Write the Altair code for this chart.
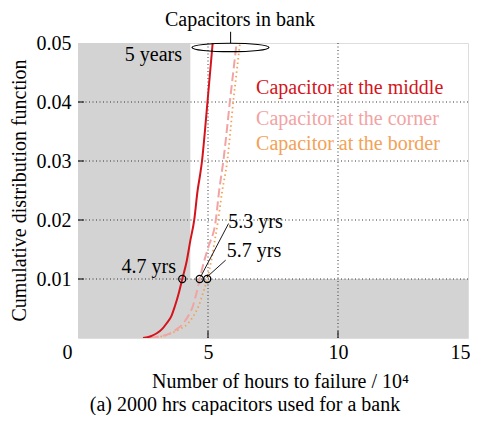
import altair as alt
import pandas as pd

FONT = "Liberation Serif"

# Curves (x in 10^4 hours, y = cumulative distribution)
mid_x = [2.5, 2.8, 3.03, 3.25, 3.41, 3.6, 3.72, 3.87, 4.01, 4.18, 4.32, 4.47, 4.6, 4.69, 4.77, 4.88, 4.98, 5.08, 5.18]
mid_y = [0.0, 0.0003, 0.0008, 0.0016, 0.0025, 0.0038, 0.0053, 0.0075, 0.01, 0.013, 0.0165, 0.02, 0.025, 0.0275, 0.03, 0.035, 0.04, 0.045, 0.05]

cor_x = [2.77, 3.07, 3.54, 3.8, 4.05, 4.25, 4.41, 4.55, 4.68, 4.85, 5.02, 5.3, 5.43, 5.59, 5.72, 5.84, 5.97, 6.1]
cor_y = [0.0, 0.0002, 0.0008, 0.0015, 0.0025, 0.0038, 0.0053, 0.0075, 0.01, 0.013, 0.0155, 0.02, 0.025, 0.03, 0.035, 0.04, 0.045, 0.05]

bor_x = [2.83, 3.15, 3.6, 3.9, 4.24, 4.45, 4.63, 4.8, 4.97, 5.12, 5.26, 5.39, 5.55, 5.74, 5.86, 5.97, 6.1, 6.23]
bor_y = [0.0, 0.0002, 0.0008, 0.0015, 0.0025, 0.0038, 0.0053, 0.0075, 0.01, 0.013, 0.0165, 0.02, 0.025, 0.03, 0.035, 0.04, 0.045, 0.05]

series_names = ["Capacitor at the middle", "Capacitor at the corner", "Capacitor at the border"]
series_colors = ["#d4141c", "#f2a3a3", "#f2a257"]

# Shaded regions: before 5 years, and below CDF 0.01
five_years = 4.32
shade_limit = 0.01

# Grid and ticks
x_ticks = [0, 5, 10, 15]
y_ticks = [0.01, 0.02, 0.03, 0.04, 0.05]
grid_x = [5, 10]
grid_y = [0.01, 0.02, 0.03, 0.04]

# Markers at CDF = 0.01
marker_x = [4.01, 4.68, 4.97]
marker_y = [0.01, 0.01, 0.01]

# Annotation texts
note_text = ["5 years", "4.7 yrs"]
note_x = [4.0, 3.77]
note_y = [0.0470, 0.0110]

note2_text = ["5.3 yrs", "5.7 yrs"]
note2_x = [5.78, 5.72]
note2_y = [0.0186, 0.0137]

leader_x = [4.72, 4.95]
leader_y = [0.0104, 0.0103]
leader_x2 = [5.79, 5.68]
leader_y2 = [0.0194, 0.0132]

legend_x = [6.85, 6.85, 6.85]
legend_y = [0.04136, 0.0361, 0.03186]

bank_label = "Capacitors in bank"
bank_x = 6.23
bank_y = 0.0529
bank_ell_x = 5.865
bank_ell_y = 0.04924
bank_line_x = 5.87
bank_line_y = [0.05, 0.0519]

xs = alt.Scale(domain=[0, 15], nice=False, zero=False)
ys = alt.Scale(domain=[0, 0.05], nice=False, zero=False)

GRAY = "#d3d3d3"

shade_left = alt.Chart(pd.DataFrame({"x": [0], "x2": [five_years], "y": [0], "y2": [0.05]})).mark_rect(
    color=GRAY).encode(
    x=alt.X("x:Q", scale=xs, axis=alt.Axis(
        values=x_ticks, format="d", title="Number of hours to failure / 10\u2074",
        labelFont=FONT, labelFontSize=20, labelColor="black", labelFlush=False,
        labelOffset={"condition": [{"test": "datum.value == 0", "value": -11},
                                   {"test": "datum.value == 15", "value": -8}], "value": 0},
        labelPadding=4, ticks=False, domain=False, grid=False,
        titleFont=FONT, titleFontSize=20, titleFontWeight="normal", titleColor="black",
        titleX=202, titleY=43, titleBaseline="middle", titleAlign="center")),
    x2="x2:Q",
    y=alt.Y("y:Q", scale=ys, axis=alt.Axis(
        values=y_ticks, format=".2f", title="Cumulative distribution function",
        labelFont=FONT, labelFontSize=20, labelColor="black", labelPadding=7,
        ticks=False, domain=False, grid=False,
        titleFont=FONT, titleFontSize=20, titleFontWeight="normal", titleColor="black",
        titleX=-59, titleY=147, titleBaseline="middle", titleAlign="center", titleAngle=270)),
    y2="y2:Q",
)

shade_bottom = alt.Chart(pd.DataFrame({"x": [0], "x2": [15], "y": [0], "y2": [shade_limit]})).mark_rect(
    color=GRAY).encode(x=alt.X("x:Q", scale=xs), x2="x2:Q", y=alt.Y("y:Q", scale=ys), y2="y2:Q")

gridx = alt.Chart(pd.DataFrame({"g": grid_x})).mark_rule(
    color="#333333", strokeWidth=1, strokeDash=[1, 2.5]).encode(x=alt.X("g:Q", scale=xs))
gridy = alt.Chart(pd.DataFrame({"g": grid_y})).mark_rule(
    color="#333333", strokeWidth=1, strokeDash=[1, 2.5]).encode(y=alt.Y("g:Q", scale=ys))

tickx = alt.Chart(pd.DataFrame({"t": grid_x})).mark_rule(color="#222222", strokeWidth=1.2).encode(
    x=alt.X("t:Q", scale=xs), y=alt.value(295), y2=alt.value(288))
ticky = alt.Chart(pd.DataFrame({"t": grid_y})).mark_rule(color="#222222", strokeWidth=1.2).encode(
    y=alt.Y("t:Q", scale=ys), x=alt.value(0), x2=alt.value(6))

def curve(xv, yv, color, dash, width):
    df = pd.DataFrame({"x": xv, "y": yv, "o": list(range(len(xv)))})
    kw = dict(color=color, strokeWidth=width, interpolate="monotone", clip=True)
    if dash:
        kw["strokeDash"] = dash
    return alt.Chart(df).mark_line(**kw).encode(
        x=alt.X("x:Q", scale=xs), y=alt.Y("y:Q", scale=ys), order="o:Q")

c_mid = curve(mid_x, mid_y, series_colors[0], None, 2)
c_cor = curve(cor_x, cor_y, series_colors[1], [9, 4], 2)
c_bor = curve(bor_x, bor_y, series_colors[2], [1.5, 3], 1.8)

markers = alt.Chart(pd.DataFrame({"x": marker_x, "y": marker_y})).mark_point(
    shape="circle", filled=False, color="black", size=50, strokeWidth=1.3, opacity=1).encode(
    x=alt.X("x:Q", scale=xs), y=alt.Y("y:Q", scale=ys))

leaders = alt.Chart(pd.DataFrame({"x": leader_x, "y": leader_y, "x2": leader_x2, "y2": leader_y2})).mark_rule(
    color="black", strokeWidth=0.9).encode(
    x=alt.X("x:Q", scale=xs), y=alt.Y("y:Q", scale=ys), x2="x2:Q", y2="y2:Q")

notes = alt.Chart(pd.DataFrame({"x": note_x, "y": note_y, "t": note_text})).mark_text(
    font=FONT, fontSize=20, align="right", baseline="alphabetic", color="black").encode(
    x=alt.X("x:Q", scale=xs), y=alt.Y("y:Q", scale=ys), text="t:N")

notes2 = alt.Chart(pd.DataFrame({"x": note2_x, "y": note2_y, "t": note2_text})).mark_text(
    font=FONT, fontSize=20, align="left", baseline="alphabetic", color="black").encode(
    x=alt.X("x:Q", scale=xs), y=alt.Y("y:Q", scale=ys), text="t:N")

legend_txt = alt.Chart(pd.DataFrame({"x": legend_x, "y": legend_y, "t": series_names, "c": series_colors})).mark_text(
    font=FONT, fontSize=20, align="left", baseline="alphabetic").encode(
    x=alt.X("x:Q", scale=xs), y=alt.Y("y:Q", scale=ys), text="t:N",
    color=alt.Color("c:N", scale=None))

bank_txt = alt.Chart(pd.DataFrame({"x": [bank_x], "y": [bank_y], "t": [bank_label]})).mark_text(
    font=FONT, fontSize=20, align="center", baseline="alphabetic", color="black").encode(
    x=alt.X("x:Q", scale=xs), y=alt.Y("y:Q", scale=ys), text="t:N")

ELLIPSE = "M -1 0 A 1 0.11 0 1 0 1 0 A 1 0.11 0 1 0 -1 0 Z"
bank_ell = alt.Chart(pd.DataFrame({"x": [bank_ell_x], "y": [bank_ell_y]})).mark_point(
    shape=ELLIPSE, filled=False, color="black", size=5929, strokeWidth=1.2, opacity=1).encode(
    x=alt.X("x:Q", scale=xs), y=alt.Y("y:Q", scale=ys))

bank_line = alt.Chart(pd.DataFrame({"x": [bank_line_x], "y": [bank_line_y[0]], "y2": [bank_line_y[1]]})).mark_rule(
    color="black", strokeWidth=1).encode(
    x=alt.X("x:Q", scale=xs), y=alt.Y("y:Q", scale=ys), y2="y2:Q")

chart = alt.layer(
    shade_left, shade_bottom, gridx, gridy, tickx, ticky,
    c_bor, c_cor, c_mid, markers, leaders, notes, notes2, legend_txt,
    bank_line, bank_ell, bank_txt,
).properties(
    width=390, height=295,
    autosize=alt.AutoSizeParams(type="none"),
    padding={"left": 70, "top": 35, "right": 2, "bottom": 77},
    title=alt.TitleParams(
        text="(a) 2000 hrs capacitors used for a bank", orient="bottom", anchor="middle",
        frame="group", dx=-28, offset=4, font=FONT, fontSize=20, fontWeight="normal", color="black"),
).configure_view(stroke="#333333", strokeWidth=1.2).configure(background="white")

chart.save("out.html", embed_options={"renderer": "svg", "actions": False})
